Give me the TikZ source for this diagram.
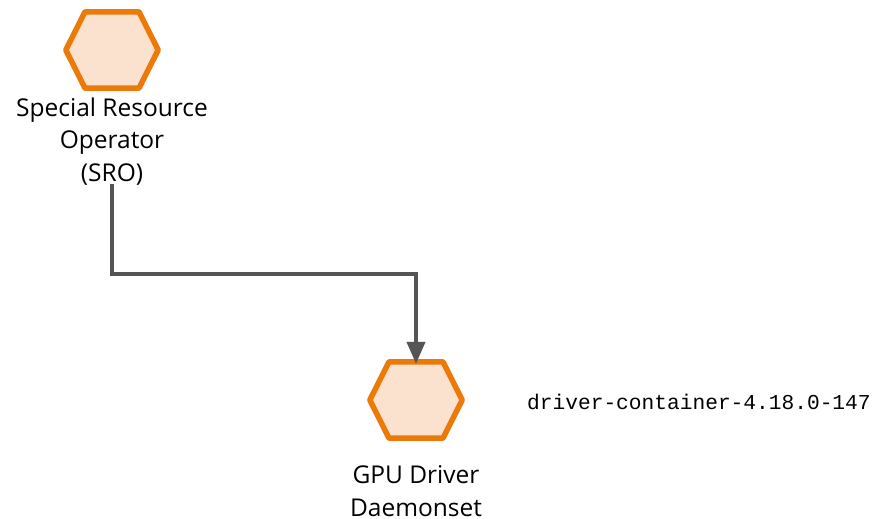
\documentclass[tikz,border=0pt]{standalone}
\usepackage{fontspec}
\setmainfont{Open Sans}
\newfontfamily\codefont{Liberation Mono}
\usetikzlibrary{arrows.meta,calc}

\definecolor{hexedge}{HTML}{EC7A08}
\definecolor{hexfill}{HTML}{FAE2CE}
\definecolor{linkgray}{HTML}{555555}

\tikzset{
  hexspot/.style={inner sep=0pt, minimum width=92pt, minimum height=76pt},
  hexline/.style={draw=hexedge, fill=hexfill, line width=5.5pt, line join=round},
  % multi-line captions: the base anchor sits on the last line's baseline
  caption/.style={font=\fontsize{24.5}{32.5}\selectfont, align=center, inner sep=0pt, anchor=base},
  codetext/.style={font=\codefont\fontsize{21.2}{25}\selectfont, inner sep=0pt, anchor=base west},
  link/.style={draw=linkgray, line width=4pt, -{Triangle[width=18pt,length=22pt]}}
}

% flat-topped hexagon drawn around a named node
\newcommand{\hexagonat}[1]{%
  \draw[hexline] (#1.west) -- ([xshift=-27pt]#1.north) -- ([xshift=27pt]#1.north)
    -- (#1.east) -- ([xshift=27pt]#1.south) -- ([xshift=-27pt]#1.south) -- cycle;}

\begin{document}
\begin{tikzpicture}[x=1pt,y=-1pt]
  \useasboundingbox (0,0) rectangle (873,519);

  \node[hexspot] (sro) at (112,50) {};
  \hexagonat{sro}
  \node[caption] (srolabel) at (112,181) {Special Resource\\Operator\\(SRO)};

  \node[hexspot] (gpu) at (416,400) {};
  \hexagonat{gpu}
  \node[caption] (gpulabel) at (416,516) {GPU Driver\\Daemonset};

  \node[codetext] (ver) at (527,409.5) {driver-container-4.18.0-147};

  \coordinate (start) at (112,184);
  \draw[link] (start) |- ($(gpu.north)+(0,-88)$) -- ([yshift=-2pt]gpu.north);
\end{tikzpicture}
\end{document}
